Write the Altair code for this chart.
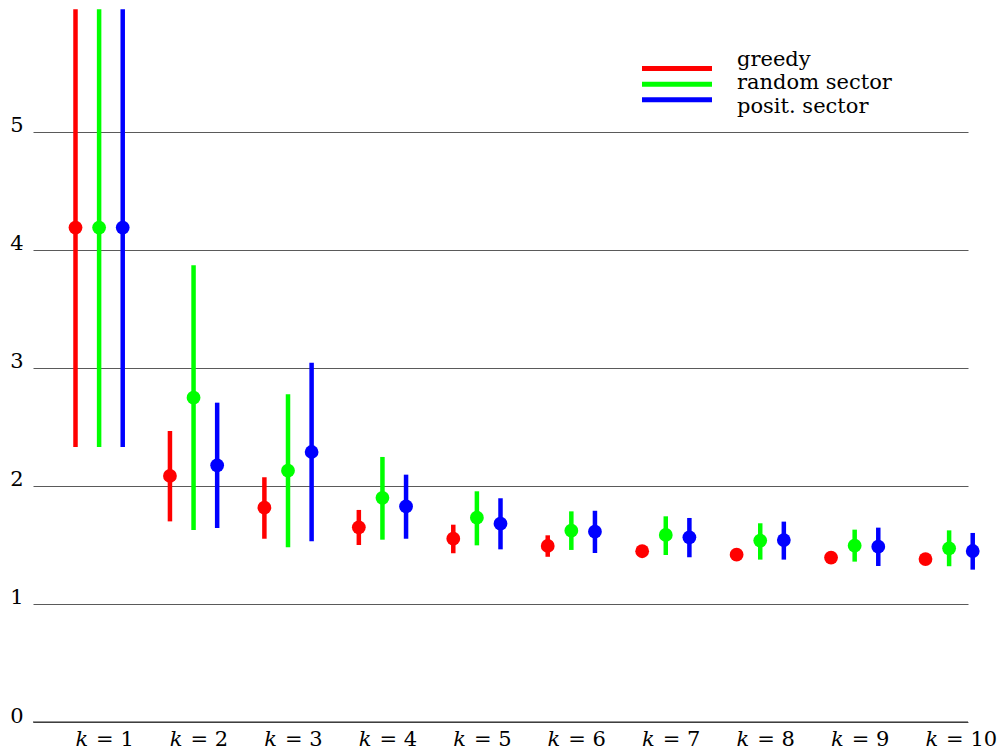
import altair as alt
import pandas as pd

ks = list(range(1, 11))
series = ["greedy", "random sector", "posit. sector"]
colors = ["#ff0000", "#00ff00", "#0000ff"]

greedy_mean = [4.19, 2.085, 1.816, 1.65, 1.553, 1.492, 1.447, 1.418, 1.393, 1.381]
greedy_lo = [2.33, 1.70, 1.553, 1.50, 1.43, 1.40, 1.42, 1.39, 1.37, 1.36]
greedy_hi = [6.04, 2.466, 2.074, 1.797, 1.672, 1.582, 1.47, 1.44, 1.41, 1.40]
random_mean = [4.19, 2.748, 2.130, 1.90, 1.731, 1.621, 1.585, 1.537, 1.494, 1.472]
random_lo = [2.33, 1.627, 1.48, 1.545, 1.497, 1.458, 1.415, 1.376, 1.359, 1.32]
random_hi = [6.04, 3.87, 2.777, 2.246, 1.955, 1.785, 1.743, 1.684, 1.63, 1.624]
posit_mean = [4.19, 2.175, 2.288, 1.828, 1.681, 1.613, 1.565, 1.542, 1.486, 1.449]
posit_lo = [2.33, 1.644, 1.531, 1.553, 1.463, 1.432, 1.396, 1.376, 1.322, 1.291]
posit_hi = [6.04, 2.706, 3.045, 2.096, 1.896, 1.79, 1.729, 1.698, 1.647, 1.602]

rows = []
for name, m, lo, hi in [
    ("greedy", greedy_mean, greedy_lo, greedy_hi),
    ("random sector", random_mean, random_lo, random_hi),
    ("posit. sector", posit_mean, posit_lo, posit_hi),
]:
    for k, a, b, c in zip(ks, m, lo, hi):
        rows.append({"k": k, "series": name, "mean": a, "lo": b, "hi": c})
df = pd.DataFrame(rows)

FONT = "DejaVu Serif"
FS = 21

xscale = alt.Scale(domain=[0.3, 10.2], nice=False, zero=False)
yscale = alt.Scale(domain=[0, 6.042], nice=False, zero=True)
cscale = alt.Scale(domain=series, range=colors)

base = alt.Chart(df).transform_calculate(
    xpos="datum.k + (datum.series == 'greedy' ? -0.25 : (datum.series == 'posit. sector' ? 0.25 : 0))"
)

bars = base.mark_rule(strokeWidth=4.5).encode(
    x=alt.X("xpos:Q", scale=xscale, axis=None),
    y=alt.Y(
        "lo:Q",
        scale=yscale,
        axis=alt.Axis(
            values=[0, 1, 2, 3, 4, 5],
            grid=True,
            gridColor="#5a5a5a",
            gridWidth=1,
            ticks=False,
            domain=False,
            labelFont=FONT,
            labelFontSize=FS,
            labelColor="#000000",
            labelPadding=10,
            labelBaseline="alphabetic",
            title=None,
        ),
    ),
    y2="hi:Q",
    color=alt.Color("series:N", scale=cscale, legend=None),
)

dots = base.mark_circle(size=190, opacity=1).encode(
    x=alt.X("xpos:Q", scale=xscale, axis=None),
    y=alt.Y("mean:Q", scale=yscale, axis=None),
    color=alt.Color("series:N", scale=cscale, legend=None),
)

zero_df = pd.DataFrame({"v": [0]})
zero_line = alt.Chart(zero_df).mark_rule(color="#222222", strokeWidth=1).encode(
    y=alt.Y("v:Q", scale=yscale, axis=None)
)

kdf = pd.DataFrame({"k": ks})
k_italic = alt.Chart(kdf).mark_text(
    text="k", font=FONT, fontSize=FS, fontStyle="italic", align="right",
    baseline="alphabetic", dx=-11, color="#000000"
).encode(
    x=alt.X("k:Q", scale=xscale, axis=None),
    y=alt.value(737),
)
k_rest = alt.Chart(kdf).transform_calculate(
    lbl="'= ' + datum.k"
).mark_text(
    font=FONT, fontSize=FS, align="left", baseline="alphabetic", dx=-3, color="#000000"
).encode(
    x=alt.X("k:Q", scale=xscale, axis=None),
    y=alt.value(737),
    text="lbl:N",
)

leg_df = pd.DataFrame({"series": series})
leg_y = alt.Scale(domain=series, range=[51.7, 98.7], padding=0)
leg_lines = alt.Chart(leg_df).mark_rule(strokeWidth=5).encode(
    x=alt.value(609),
    x2=alt.value(679),
    y=alt.Y("series:N", scale=leg_y, axis=None),
    color=alt.Color("series:N", scale=cscale, legend=None),
)
leg_text = alt.Chart(leg_df).mark_text(
    font=FONT, fontSize=FS, align="left", baseline="alphabetic", dy=5, color="#000000"
).encode(
    x=alt.value(704),
    y=alt.Y("series:N", scale=leg_y, axis=None),
    text="series:N",
)

chart = alt.layer(
    bars, dots, zero_line, k_italic, k_rest, leg_lines, leg_text
).resolve_scale(
    y="independent"
).properties(
    width=935,
    height=713,
    padding={"left": 25, "top": 1, "right": 30, "bottom": 30},
    autosize=alt.AutoSizeParams(type="none"),
).configure_view(stroke=None)

chart.save("out.html", embed_options={"renderer": "svg", "actions": False})
